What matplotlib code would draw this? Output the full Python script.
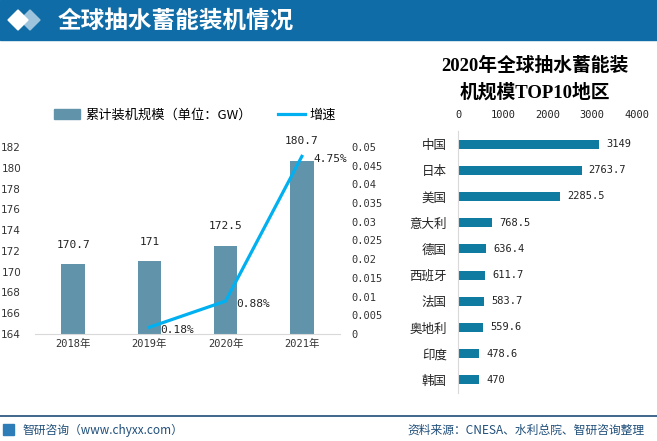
import matplotlib
matplotlib.use("Agg")
import matplotlib.pyplot as plt
from matplotlib.patches import Rectangle, Polygon, Patch
from matplotlib.lines import Line2D

plt.rcParams['font.family'] = ['DejaVu Sans', 'Noto Sans CJK SC']

# left chart data
years = ["2018年", "2019年", "2020年", "2021年"]
capacity = [170.7, 171, 172.5, 180.7]
growth_years = [1, 2, 3]
growth = [0.0018, 0.0088, 0.0475]
growth_labels = ["0.18%", "0.88%", "4.75%"]

# right chart data
regions = ["中国", "日本", "美国", "意大利", "德国", "西班牙", "法国", "奥地利", "印度", "韩国"]
region_cap = [3149, 2763.7, 2285.5, 768.5, 636.4, 611.7, 583.7, 559.6, 478.6, 470]
region_labels = ["3149", "2763.7", "2285.5", "768.5", "636.4", "611.7", "583.7", "559.6", "478.6", "470"]

W, H = 657, 441
MONO = ['DejaVu Sans Mono', 'Noto Sans CJK SC']
CJK = ['Noto Sans CJK SC', 'DejaVu Sans']

fig = plt.figure(figsize=(W / 100, H / 100), dpi=100)

# background / decoration layer in pixel coords
bg = fig.add_axes([0, 0, 1, 1], zorder=-1)
bg.set_xlim(0, W)
bg.set_ylim(H, 0)
bg.axis('off')
bg.add_patch(Rectangle((0, 0), W, 40, color='#106CA6'))
bg.add_patch(Polygon([(30, 10), (40, 20), (30, 30), (20, 20)], color='#9EC3DC'))
bg.add_patch(Polygon([(18, 10), (28, 20), (18, 30), (8, 20)], color='white'))
bg.text(58, 21, "全球抽水蓄能装机情况", color='white', fontsize=17, fontweight='bold',
        family=CJK, va='center', ha='left')

# footer
bg.plot([0, W], [416, 416], color='#1F4E79', lw=1.2)
bg.add_patch(Rectangle((3, 424), 11, 11, color='#2E7DB8'))
bg.text(22, 430, "智研咨询（www.chyxx.com）", fontsize=8.5, color='#1F4E79', family=CJK,
        va='center', ha='left')
bg.text(645, 430, "资料来源：CNESA、水利总院、智研咨询整理", fontsize=8.5, color='#1F4E79',
        family=CJK, va='center', ha='right')

# left chart
ax = fig.add_axes([35 / W, 1 - 334 / H, 305 / W, 187 / H])
x = list(range(len(years)))
ax.bar(x, capacity, width=0.31, color='#6194AB', zorder=2)
ax.set_ylim(164, 182)
ax.set_xlim(-0.5, 3.5)
ax.set_yticks(range(164, 183, 2))
ax.set_xticks(x)
ax.set_xticklabels(years, family=MONO, fontsize=7.5)
ax.tick_params(axis='both', length=0, labelsize=7.5, colors='#333333')
ax.tick_params(axis='y', pad=10)
for s in ['top', 'right', 'left']:
    ax.spines[s].set_visible(False)
ax.spines['bottom'].set_color('#D9D9D9')
for xi, v in zip(x, capacity):
    ax.annotate(f"{v:g}", (xi, v), xytext=(0, 14), textcoords='offset points',
                ha='center', va='center', fontsize=8, family=MONO, color='#222222')

ax2 = ax.twinx()
ax2.plot(growth_years, growth, color='#00B0F0', lw=2.3, zorder=3)
ax2.set_ylim(0, 0.05)
ticks = [i * 0.005 for i in range(11)]
ax2.set_yticks(ticks)
ax2.set_yticklabels([f"{t:g}" for t in ticks], family=MONO, fontsize=7.5)
ax2.tick_params(axis='y', length=0, pad=8, colors='#333333')
for s in ['top', 'right', 'left', 'bottom']:
    ax2.spines[s].set_visible(False)
for gx, gv, gl in zip(growth_years, growth, growth_labels):
    ax2.annotate(gl, (gx, gv), xytext=(8, -2), textcoords='offset points',
                 ha='left', va='center', fontsize=8, family=MONO, color='#222222')

handles = [Patch(color='#6194AB'), Line2D([0], [0], color='#00B0F0', lw=2.3)]
fig.legend(handles, ["累计装机规模（单位：GW）", "增速"], loc='center',
           bbox_to_anchor=(195 / W, 1 - 115 / H), ncol=2, frameon=False,
           prop={'family': CJK, 'size': 9.5}, handlelength=2.0, handleheight=0.7,
           columnspacing=2.0, handletextpad=0.4)

# right chart
fig.text(535 / W, 1 - 66 / H, "2020年全球抽水蓄能装", fontsize=13.5, fontweight='bold',
         family=['Liberation Serif', 'Noto Sans CJK SC'], ha='center', va='center')
fig.text(535 / W, 1 - 92 / H, "机规模TOP10地区", fontsize=13.5, fontweight='bold',
         family=['Liberation Serif', 'Noto Sans CJK SC'], ha='center', va='center')

axr = fig.add_axes([458 / W, 1 - 393 / H, 179 / W, 262 / H])
y = list(range(len(regions)))
axr.barh(y, region_cap, height=0.35, color='#0F7BA1')
axr.set_xlim(0, 4000)
axr.set_ylim(9.5, -0.5)
axr.xaxis.tick_top()
axr.set_xticks([0, 1000, 2000, 3000, 4000])
axr.set_xticklabels(["0", "1000", "2000", "3000", "4000"], family=MONO, fontsize=7.5)
axr.set_yticks(y)
axr.set_yticklabels(regions, family=CJK, fontsize=9)
axr.tick_params(axis='both', length=0, colors='#222222')
axr.tick_params(axis='x', pad=8)
axr.tick_params(axis='y', pad=8)
for s in ['top', 'right', 'bottom']:
    axr.spines[s].set_visible(False)
axr.spines['left'].set_color('#D9D9D9')
for yi, v, lab in zip(y, region_cap, region_labels):
    axr.annotate(lab, (v, yi), xytext=(5, 0), textcoords='offset points',
                 ha='left', va='center', fontsize=7.5, family=MONO, color='#222222')

fig.savefig("out.png", dpi=100)
